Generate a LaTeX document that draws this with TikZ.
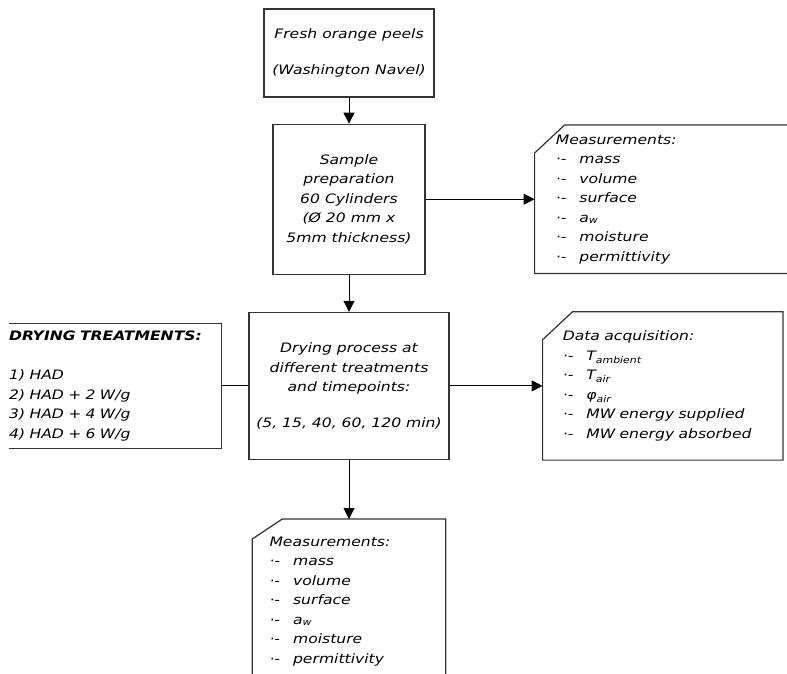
\documentclass[tikz,border=0pt]{standalone}
\usepackage{fontspec}
\setmainfont{DejaVu Sans}[FakeStretch=1.2]
\usepackage{tikz}
\usetikzlibrary{arrows.meta, positioning, calc}
\definecolor{boxgray}{HTML}{333333}
\newcommand{\itm}{·-\hspace{13pt}}

\begin{document}
\begin{tikzpicture}[
    x=1pt, y=-1pt,
    font=\fontsize{13}{19.5}\selectfont\itshape,
    stepbox/.style={rectangle, draw=boxgray, line width=1.2pt, align=center, inner sep=0pt},
    notebox/.style={rectangle, inner ysep=0pt, align=left},
    arrow/.style={-{Triangle[length=11pt, width=11pt]}, line width=1pt, black},
    link/.style={line width=1pt, black},
    cut/.style={draw=boxgray, line width=1.2pt}
]
\useasboundingbox (0,0) rectangle (787,674);
\clip (0,0) rectangle (787,674);

% Nodes
\node[stepbox, minimum width=170pt, minimum height=88pt] (peels) at (349,53) {Fresh orange peels\\[17pt](Washington Navel)};
\node[stepbox, minimum width=152pt, minimum height=150pt, below=26pt of peels] (prep) {Sample\\preparation\\60 Cylinders\\(Ø 20 mm x\\5mm thickness)};
\node[notebox, inner xsep=21pt, text width=228pt, minimum height=148pt, right=109pt of prep] (meas) {Measurements:\\\itm mass\\\itm volume\\\itm surface\\\itm a\textsubscript{w}\\\itm moisture\\\itm permittivity};
\node[stepbox, minimum width=200pt, minimum height=147pt, below=37pt of prep] (drying) {Drying process at\\different treatments\\and timepoints:\\[16pt](5, 15, 40, 60, 120 min)};
\node[notebox, inner xsep=0pt, text width=212pt, minimum height=125pt, left=27pt of drying] (treat) {{\bfseries DRYING TREATMENTS:}\\[19.5pt]1) HAD\\2) HAD + 2 W/g\\3) HAD + 4 W/g\\4) HAD + 6 W/g};
\node[notebox, inner xsep=20pt, text width=200pt, minimum height=148pt, right=93pt of drying] (data) {Data acquisition:\\\itm T\textsubscript{ambient}\\\itm T\textsubscript{air}\\\itm φ\textsubscript{air}\\\itm MW energy supplied\\\itm MW energy absorbed};
\node[notebox, inner xsep=17pt, text width=159pt, minimum height=164pt, below=59pt of drying] (meas2) {Measurements:\\\itm mass\\\itm volume\\\itm surface\\\itm a\textsubscript{w}\\\itm moisture\\\itm permittivity};

% Outlines with cut corner
\draw[cut] ([yshift=-28pt]meas.north west) -- ([xshift=30pt]meas.north west) -- (meas.north east) -- (meas.south east) -- (meas.south west) -- cycle;
\draw[cut] ([yshift=-28pt]data.north west) -- ([xshift=30pt]data.north west) -- (data.north east) -- (data.south east) -- (data.south west) -- cycle;
\draw[cut] ([yshift=-20pt]meas2.north west) -- ([xshift=30pt]meas2.north west) -- (meas2.north east) -- (meas2.south east) -- (meas2.south west) -- cycle;
\draw[cut] (treat.north west) -- (treat.north east) -- (treat.south east) -- (treat.south west);

% Arrows
\draw[arrow] (peels) -- (prep);
\draw[arrow] (prep) -- (meas);
\draw[arrow] (prep) -- (drying);
\draw[link] (treat) -- (drying);
\draw[arrow] (drying) -- (data);
\draw[arrow] (drying) -- (meas2);

\end{tikzpicture}
\end{document}
